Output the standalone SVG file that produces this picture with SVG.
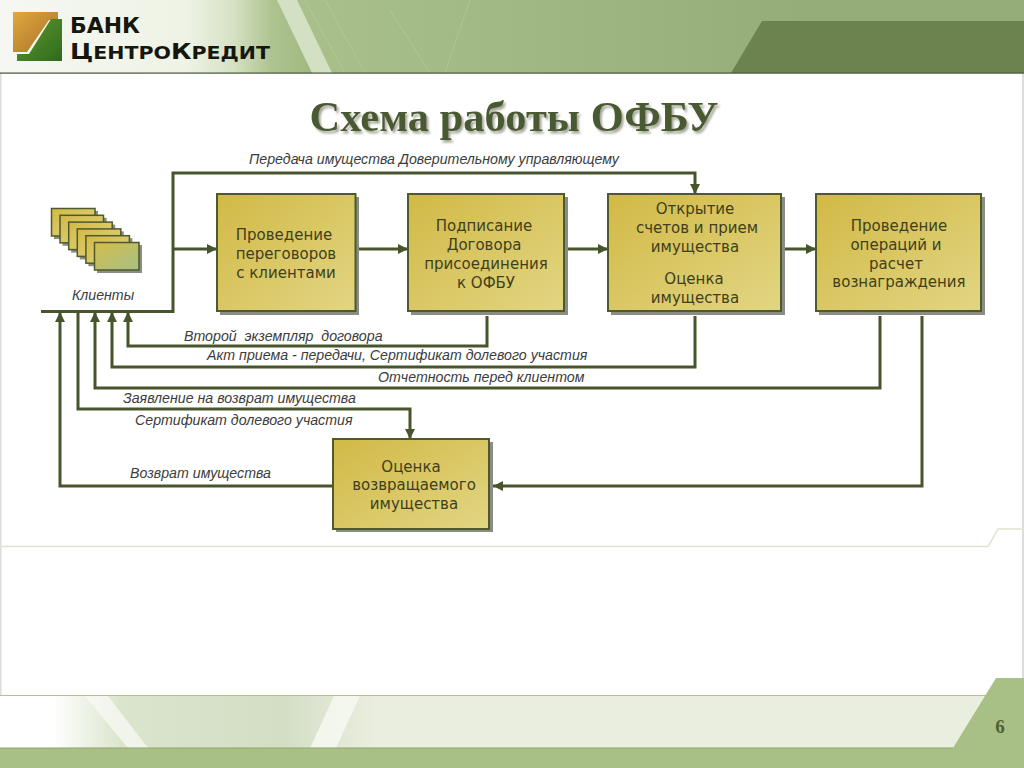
<svg xmlns="http://www.w3.org/2000/svg" width="1024" height="768" viewBox="0 0 1024 768">
<style>
.box{stroke:#4c5a2c;stroke-width:2;fill:url(#gold)}
.sh{fill:#8b8c84}
.bt{font-family:"DejaVu Sans",Verdana,sans-serif;font-size:15px;fill:#3f3f1c;text-anchor:middle}
.lb{font-family:"Liberation Sans",Arial,sans-serif;font-size:14.200px;font-style:italic;fill:#3c3c3c}
.c{fill:none;stroke:#46552b;stroke-width:3}
.logo{font-family:"DejaVu Sans",sans-serif;font-weight:bold;fill:#15170f}
.card{fill:url(#gold);stroke:#4c5a2c;stroke-width:1.500}
</style>
<defs>
<linearGradient id="gold" x1="0" y1="0" x2="1" y2="1"><stop offset="0" stop-color="#d2b946"/><stop offset="1" stop-color="#e2d683"/></linearGradient>
<linearGradient id="cardLast" x1="0" y1="0" x2="1" y2="1"><stop offset="0" stop-color="#d4bd4c"/><stop offset="1" stop-color="#a7c085"/></linearGradient>
<linearGradient id="hd" x1="0" x2="1" y1="0" y2="0"><stop offset="0" stop-color="#f6f7f2"/><stop offset=".6" stop-color="#eef3e5"/><stop offset=".75" stop-color="#d5e1c3"/><stop offset=".87" stop-color="#aec490"/><stop offset="1" stop-color="#a0b87f"/></linearGradient>
<linearGradient id="hd2" gradientUnits="userSpaceOnUse" x1="300" y1="0" x2="800" y2="0"><stop offset="0" stop-color="#a9c08b"/><stop offset=".5" stop-color="#9fb780"/><stop offset="1" stop-color="#95ad76"/></linearGradient>
<linearGradient id="ft" x1="0" x2="1" y1="0" y2="0"><stop offset="0" stop-color="#fff"/><stop offset=".14" stop-color="#fff"/><stop offset=".32" stop-color="#dbe5cd"/><stop offset=".75" stop-color="#d3dec5"/><stop offset="1" stop-color="#eaeedf"/></linearGradient>
<linearGradient id="lg1" x1="0" y1="0" x2="1" y2="1"><stop offset="0" stop-color="#e0a93f"/><stop offset="1" stop-color="#a86f28"/></linearGradient>
<linearGradient id="lg2" x1="0" y1="0" x2="1" y2="1"><stop offset="0" stop-color="#5f9a30"/><stop offset="1" stop-color="#2f6a1c"/></linearGradient>
<filter id="ts" x="-5%" y="-20%" width="110%" height="150%"><feDropShadow dx="2" dy="2.500" stdDeviation="1" flood-color="#a5a598"/></filter>
<marker id="a" markerUnits="userSpaceOnUse" markerWidth="12" markerHeight="12" refX="10" refY="6" orient="auto"><path d="M0 1L10 6L0 11Z" fill="#46552b"/></marker>
</defs>

<g id="background">
<rect width="1024" height="768" fill="#fff"/>
<rect x="0" y="73" width="1.500" height="675" fill="#dcdcd8"/>
<rect x="1022" y="73" width="2" height="610" fill="#dcdcd8"/>
<rect width="1024" height="73" fill="url(#hd2)"/>
<path d="M0 0H277L312 73H0Z" fill="url(#hd)"/>
<path d="M277 0H297L332 73H312Z" fill="#d4e0c3"/>
<path d="M305 0L345 73M325 0L365 73M390 10L430 73M470 0L445 73" stroke="#bfd0a8" stroke-width="1" fill="none" opacity=".5"/>
<path d="M762 21H1024V73H731Z" fill="#6c834e"/>
<rect x="0" y="72.500" width="1024" height="1.200" fill="#46523a"/>
<path d="M0 546.500H988L998 529H1024" fill="none" stroke="#dfe3cc" stroke-width="1.500"/>
<rect x="0" y="695" width="1024" height="53" fill="#eaeedf"/>
<path d="M0 695.500H376V748H0Z" fill="url(#ft)"/>
<path d="M85 696H108L148 748H128Z" fill="#fafbf6" opacity=".7"/>
<path d="M334 696H360L336 748H310Z" fill="#f8faf3" opacity=".8"/>
<rect x="0" y="695" width="1024" height="1" fill="#b4bf9e"/>
<rect x="0" y="748" width="1024" height="20" fill="#a8bf85"/>
<rect x="0" y="747.500" width="953" height="1" fill="#8fa56f"/>
<path d="M953 748L996 678H1024V768H953Z" fill="#a8bf85"/>
<text x="1000" y="733" font-family="Liberation Serif,serif" font-weight="bold" font-size="19" fill="#4d6233" text-anchor="middle">6</text>
</g>

<g id="logo">
<path d="M13 12H58V20H49L27 52H13Z" fill="url(#lg1)"/>
<path d="M51 19H62V61H17V54H29Z" fill="url(#lg2)"/>
<text class="logo" x="70" y="33" font-size="21" textLength="70" lengthAdjust="spacingAndGlyphs">БАНК</text>
<text class="logo" x="70" y="59" font-size="18" textLength="200" lengthAdjust="spacingAndGlyphs"><tspan font-size="22">Ц</tspan>ЕНТРО<tspan font-size="22">К</tspan>РЕДИТ</text>
</g>

<text id="title" x="514" y="131" font-family="Liberation Serif,serif" font-weight="bold" font-size="42.500" fill="#4a5a32" text-anchor="middle" filter="url(#ts)">Схема работы ОФБУ</text>

<g id="connectors">
<path class="c" d="M41 311.500H173V173H695V194" marker-end="url(#a)"/>
<path class="c" d="M173 249H217" marker-end="url(#a)"/>
<path class="c" d="M359 249H408" marker-end="url(#a)"/>
<path class="c" d="M568 249H608" marker-end="url(#a)"/>
<path class="c" d="M785 249H816" marker-end="url(#a)"/>
<path class="c" d="M487 316V346H128V312" marker-end="url(#a)"/>
<path class="c" d="M695 316V367H112V312" marker-end="url(#a)"/>
<path class="c" d="M880 316V388H95V312" marker-end="url(#a)"/>
<path class="c" d="M78 312V409H410V439" marker-end="url(#a)"/>
<path class="c" d="M333 486H60V312" marker-end="url(#a)"/>
<path class="c" d="M922 316V486H493" marker-end="url(#a)"/>
</g>

<g id="clients">
<rect class="sh" x="54" y="211" width="44" height="28"/>
<rect class="card" x="51.500" y="208.500" width="43.500" height="27.500"/>
<rect class="sh" x="62.600" y="217.800" width="44" height="28"/>
<rect class="card" x="60" y="215.300" width="43.500" height="27.500"/>
<rect class="sh" x="71.200" y="224.600" width="44" height="28"/>
<rect class="card" x="68.700" y="222.100" width="43.500" height="27.500"/>
<rect class="sh" x="79.800" y="231.400" width="44" height="28"/>
<rect class="card" x="77.300" y="228.900" width="43.500" height="27.500"/>
<rect class="sh" x="88.400" y="238.200" width="44" height="28"/>
<rect class="card" x="85.900" y="235.700" width="43.500" height="27.500"/>
<rect class="sh" x="97" y="245" width="45" height="28"/>
<rect x="94.500" y="242.500" width="44.500" height="27.500" fill="url(#cardLast)" stroke="#4c5a2c" stroke-width="1.500"/>
<text class="lb" x="103" y="300" text-anchor="middle">Клиенты</text>
</g>

<g id="n1">
<rect class="sh" x="220" y="197" width="139" height="118"/>
<rect class="box" x="217" y="194" width="138.500" height="117"/>
<text class="bt"><tspan x="284" y="240">Проведение</tspan><tspan x="286" y="259">переговоров</tspan><tspan x="286" y="278">с клиентами</tspan></text>
</g>
<g id="n2">
<rect class="sh" x="411" y="197" width="157" height="118"/>
<rect class="box" x="408" y="194" width="156" height="117"/>
<text class="bt"><tspan x="484" y="231">Подписание</tspan><tspan x="484" y="250">Договора</tspan><tspan x="486" y="269">присоединения</tspan><tspan x="486" y="288">к ОФБУ</tspan></text>
</g>
<g id="n3">
<rect class="sh" x="611" y="197" width="174" height="118"/>
<rect class="box" x="608" y="194" width="173" height="117"/>
<text class="bt"><tspan x="695" y="214">Открытие</tspan><tspan x="697" y="233">счетов и прием</tspan><tspan x="695" y="252">имущества</tspan><tspan x="694" y="284">Оценка</tspan><tspan x="695" y="303">имущества</tspan></text>
</g>
<g id="n4">
<rect class="sh" x="819" y="197" width="166" height="118"/>
<rect class="box" x="816" y="194" width="165" height="117"/>
<text class="bt"><tspan x="899" y="231">Проведение</tspan><tspan x="896" y="250">операций и</tspan><tspan x="896" y="269">расчет</tspan><tspan x="899" y="287">вознаграждения</tspan></text>
</g>
<g id="n5">
<rect class="sh" x="336" y="442" width="157" height="90"/>
<rect class="box" x="333" y="439" width="156" height="90"/>
<text class="bt"><tspan x="411" y="472">Оценка</tspan><tspan x="414" y="490">возвращаемого</tspan><tspan x="414" y="509">имущества</tspan></text>
</g>

<g id="labels">
<text class="lb" x="249" y="164">Передача имущества Доверительному управляющему</text>
<text class="lb" x="184" y="341" xml:space="preserve">Второй  экземпляр  договора</text>
<text class="lb" x="207" y="360">Акт приема - передачи, Сертификат долевого участия</text>
<text class="lb" x="378" y="382">Отчетность перед клиентом</text>
<text class="lb" x="123" y="403">Заявление на возврат имущества</text>
<text class="lb" x="135" y="425">Сертификат долевого участия</text>
<text class="lb" x="130" y="478">Возврат имущества</text>
</g>
</svg>
